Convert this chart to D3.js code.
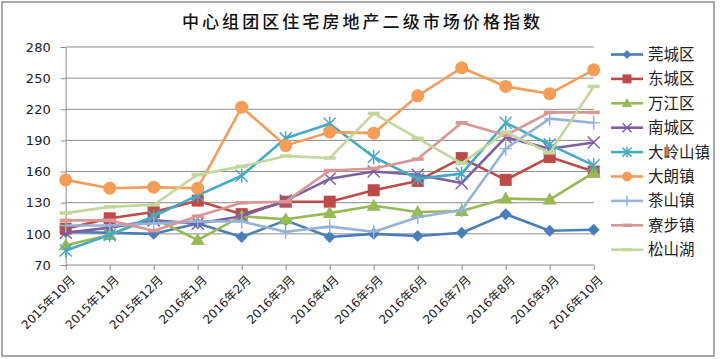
<!DOCTYPE html>
<html><head><meta charset="utf-8">
<script src="https://cdn.jsdelivr.net/npm/d3@7"></script>
<style>html,body{margin:0;padding:0;background:#fff;}svg{display:block;}</style>
</head><body>
<svg id="c" width="720" height="359"></svg>
<script>
const title = "中心组团区住宅房地产二级市场价格指数";
const categories = ["2015年10月","2015年11月","2015年12月","2016年1月","2016年2月","2016年3月","2016年4月","2016年5月","2016年6月","2016年7月","2016年8月","2016年9月","2016年10月"];
const yTicks = [70,100,130,160,190,220,250,280];
const seriesNames = ["莞城区","东城区","万江区","南城区","大岭山镇","大朗镇","茶山镇","寮步镇","松山湖"];
const seriesColors = ["#4A7EBB","#BE4B48","#98B954","#7D60A0","#46AAC5","#F59D56","#95B3D7","#DA9694","#C3D69B"];
const seriesMarkers = ["diamond","square","triangle","x","asterisk","circle","plus","dash","dash"];
const wanchengqu = [102,101,100,110,97,113,97,100,98,101,119,103,104];
const dongchengqu = [105,115,121,132,119,131,131,142,151,173,152,174,160];
const wanjiangqu = [89,99,115,94,117,114,120,127,121,122,134,133,159];
const nanchengqu = [101,106,113,110,117,132,153,160,157,149,193,182,188];
const dalingshan = [84,99,117,137,156,192,206,174,153,158,207,186,166];
const dalang = [152,144,145,144,222,185,198,197,233,260,242,235,258];
const chashan = [108,108,110,112,112,102,107,102,116,123,182,211,207];
const liaobu = [113,113,103,117,130,131,161,163,172,207,195,217,217];
const songshanhu = [120,126,128,157,165,175,173,216,192,168,198,178,242];
const seriesValues = [wanchengqu,dongchengqu,wanjiangqu,nanchengqu,dalingshan,dalang,chashan,liaobu,songshanhu];

const svg = d3.select("#c");
svg.append("rect").attr("x",2).attr("y",2).attr("width",712).attr("height",354)
  .attr("fill","#fff").attr("stroke","#8c8c8c").attr("stroke-width",1.5);

svg.append("text").attr("x",182).attr("y",28).attr("textLength",358).attr("lengthAdjust","spacing")
  .attr("font-family","'Noto Sans CJK SC'").attr("font-size",17).attr("font-weight",500).attr("fill","#111")
  .text(title);

const x = d3.scalePoint().domain(categories).range([65.7,593.7]);
const y = d3.scaleLinear().domain([70,280]).range([265,47]);

// gridlines
svg.append("g").selectAll("line").data(yTicks.filter(v=>v>70)).join("line")
  .attr("x1",65.7).attr("x2",593.7).attr("y1",d=>y(d)).attr("y2",d=>y(d))
  .attr("stroke","#8c8c8c").attr("stroke-width",1);

const yAxis = svg.append("g").attr("transform","translate(65.7,0)")
  .call(d3.axisLeft(y).tickValues(yTicks).tickSize(5).tickPadding(10));
yAxis.select(".domain").attr("stroke","#8c8c8c");
yAxis.selectAll(".tick line").attr("stroke","#8c8c8c");
yAxis.selectAll("text").attr("font-family","'DejaVu Sans'").attr("font-size",13).attr("fill","#222");

const xAxis = svg.append("g").attr("transform","translate(0,265)")
  .call(d3.axisBottom(x).tickSize(5).tickSizeOuter(0));
xAxis.select(".domain").attr("stroke","#8c8c8c").attr("d","M65.7,0H593.7");
xAxis.selectAll(".tick line").attr("stroke","#8c8c8c");
xAxis.selectAll("text").attr("font-family","'DejaVu Sans','Noto Sans CJK SC'").attr("font-size",12).attr("fill","#222")
  .attr("text-anchor","end").attr("dy",0).attr("transform","translate(4,10) rotate(-45)");

function marker(g, type, color, cx, cy, s){
  const k = s||1;
  if(type==="diamond"){
    g.append("path").attr("d",`M${cx},${cy-6*k}L${cx+6*k},${cy}L${cx},${cy+6*k}L${cx-6*k},${cy}Z`).attr("fill",color);
  } else if(type==="square"){
    g.append("rect").attr("x",cx-6*k).attr("y",cy-6*k).attr("width",12*k).attr("height",12*k).attr("fill",color);
  } else if(type==="triangle"){
    g.append("path").attr("d",`M${cx},${cy-7*k}L${cx+7*k},${cy+5*k}L${cx-7*k},${cy+5*k}Z`).attr("fill",color);
  } else if(type==="circle"){
    g.append("circle").attr("cx",cx).attr("cy",cy).attr("r",6.5*k).attr("fill",color);
  } else if(type==="x"){
    g.append("path").attr("d",`M${cx-6*k},${cy-6*k}L${cx+6*k},${cy+6*k}M${cx-6*k},${cy+6*k}L${cx+6*k},${cy-6*k}`).attr("stroke",color).attr("stroke-width",1.5);
  } else if(type==="asterisk"){
    g.append("path").attr("d",`M${cx-6*k},${cy-6*k}L${cx+6*k},${cy+6*k}M${cx-6*k},${cy+6*k}L${cx+6*k},${cy-6*k}M${cx},${cy-7*k}L${cx},${cy+7*k}`).attr("stroke",color).attr("stroke-width",1.5);
  } else if(type==="plus"){
    g.append("path").attr("d",`M${cx-6*k},${cy}L${cx+6*k},${cy}M${cx},${cy-7*k}L${cx},${cy+7*k}`).attr("stroke",color).attr("stroke-width",1.5);
  } else if(type==="dash"){
    g.append("path").attr("d",`M${cx-6*k},${cy}L${cx+6*k},${cy}`).attr("stroke",color).attr("stroke-width",3.5);
  }
}

const line = d3.line().x((d,i)=>x(categories[i])).y(d=>y(d));
const plot = svg.append("g");
seriesValues.forEach((vals,si)=>{
  const g = plot.append("g");
  g.append("path").datum(vals).attr("d",line).attr("fill","none")
    .attr("stroke",seriesColors[si]).attr("stroke-width",2.6).attr("stroke-linejoin","round");
  vals.forEach((v,i)=>marker(g, seriesMarkers[si], seriesColors[si], x(categories[i]), y(v)));
});

// legend
const lg = svg.append("g");
seriesNames.forEach((n,i)=>{
  const yy = 54.5 + i*24.4;
  lg.append("line").attr("x1",611).attr("x2",643).attr("y1",yy).attr("y2",yy)
    .attr("stroke",seriesColors[i]).attr("stroke-width",2.6);
  marker(lg, seriesMarkers[i], seriesColors[i], 627, yy, 0.75);
  lg.append("text").attr("x",648).attr("y",yy).attr("dy","0.36em")
    .attr("font-family","'Noto Sans CJK SC'").attr("font-size",15.5).attr("fill","#222").text(n);
});
</script>
</body></html>
